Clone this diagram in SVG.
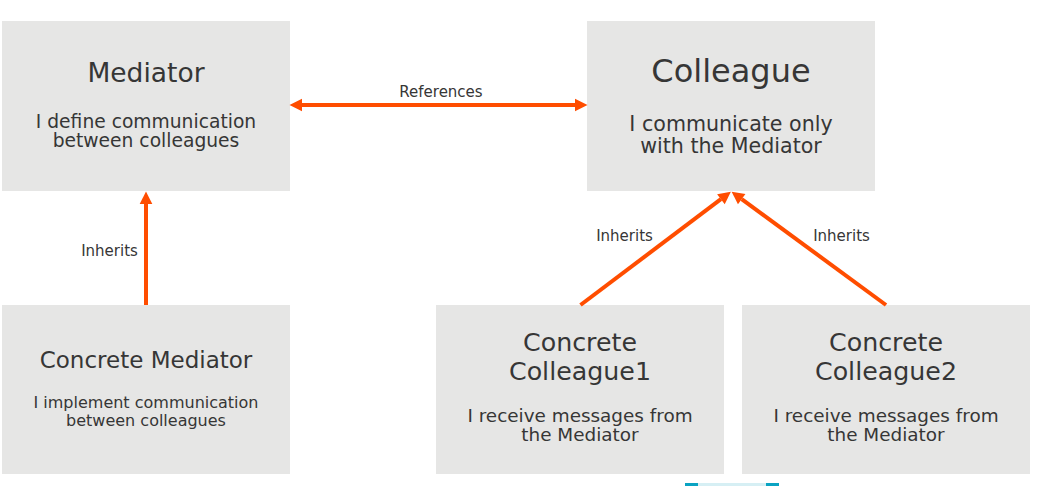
<svg xmlns="http://www.w3.org/2000/svg" width="1039" height="486" viewBox="0 0 1039 486">
<style>
.box{fill:#e6e6e5}
text{font-family:"DejaVu Sans","Noto Sans",sans-serif;fill:#363636;text-anchor:middle}
.t1{font-size:25.3px}
.t2{font-size:32px}
.d{font-size:18.7px}
.lbl{font-size:15px}
.conn{stroke:#ff4d00;stroke-width:4;fill:none}
</style>
<defs>
<marker id="ah" markerUnits="userSpaceOnUse" markerWidth="14" markerHeight="14" refX="0" refY="0" viewBox="0 -7 13 14" orient="auto-start-reverse">
<path d="M0,-6.3 L12.5,0 L0,6.3 z" fill="#ff4d00"/>
</marker>
</defs>
<rect width="1039" height="486" fill="#ffffff"/>
<g id="mediator">
<rect class="box" x="2" y="21" width="288" height="170"/>
<text x="146" y="82" style="font-size:26.5px">Mediator</text>
<text class="d"><tspan x="146" y="128">I define communication</tspan><tspan x="146" y="147">between colleagues</tspan></text>
</g>
<g id="colleague">
<rect class="box" x="587" y="21" width="288" height="170"/>
<text class="t2" x="731" y="82">Colleague</text>
<text style="font-size:20.6px"><tspan x="731" y="131">I communicate only</tspan><tspan x="731" y="153">with the Mediator</tspan></text>
</g>
<g id="concrete-mediator">
<rect class="box" x="2" y="305" width="288" height="169"/>
<text x="146" y="368" style="font-size:23px">Concrete Mediator</text>
<text style="font-size:16px"><tspan x="146" y="408">I implement communication</tspan><tspan x="146" y="426">between colleagues</tspan></text>
</g>
<g id="concrete-colleague1">
<rect class="box" x="436" y="305" width="288" height="169"/>
<text class="t1"><tspan x="580" y="351">Concrete</tspan><tspan x="580" y="380">Colleague1</tspan></text>
<text style="font-size:18.4px"><tspan x="580" y="422">I receive messages from</tspan><tspan x="580" y="441">the Mediator</tspan></text>
</g>
<g id="concrete-colleague2">
<rect class="box" x="742" y="305" width="288" height="169"/>
<text class="t1"><tspan x="886" y="351">Concrete</tspan><tspan x="886" y="380">Colleague2</tspan></text>
<text style="font-size:18.4px"><tspan x="886" y="422">I receive messages from</tspan><tspan x="886" y="441">the Mediator</tspan></text>
</g>
<g id="connectors">
<line class="conn" x1="302" y1="105" x2="575" y2="105" marker-start="url(#ah)" marker-end="url(#ah)"/>
<text class="lbl" x="441" y="97">References</text>
<line class="conn" x1="146" y1="305" x2="146" y2="204" marker-end="url(#ah)"/>
<text class="lbl" x="109.5" y="256">Inherits</text>
<line class="conn" x1="580.5" y1="305" x2="720.9" y2="199.2" marker-end="url(#ah)"/>
<text class="lbl" x="624.5" y="241">Inherits</text>
<line class="conn" x1="886" y1="305" x2="741.7" y2="199.1" marker-end="url(#ah)"/>
<text class="lbl" x="841.5" y="241">Inherits</text>
</g>
<rect x="685" y="483" width="94" height="3" fill="#d6eff4"/>
<rect x="685" y="483" width="13" height="3" fill="#0aa3c2"/>
<rect x="766" y="483" width="13" height="3" fill="#0aa3c2"/>
</svg>
